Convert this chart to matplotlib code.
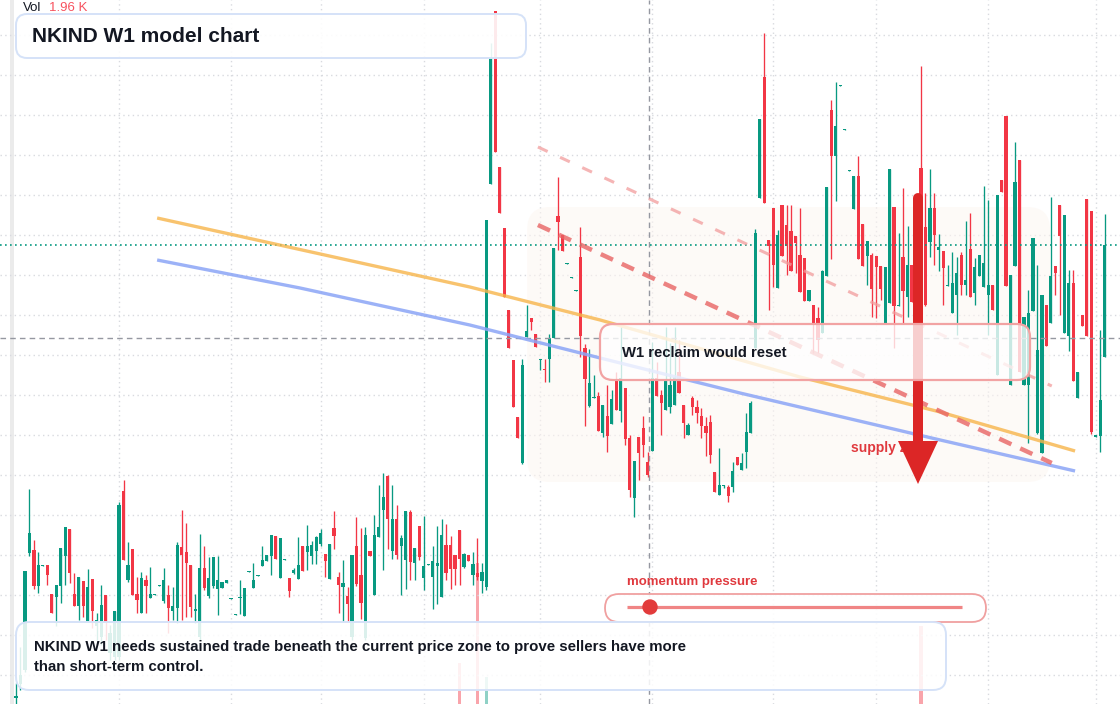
import numpy as np
import matplotlib
matplotlib.use("Agg")
import matplotlib.pyplot as plt
import matplotlib.transforms as mtransforms
from matplotlib.patches import FancyBboxPatch, Polygon, Circle, Rectangle

plt.rcParams['font.family'] = ['Liberation Sans', 'DejaVu Sans']

# ---- weekly candles (price units) ----
opens = [
    1.7, 3.1, 4.5, 16.2, 16.5, 12.9, 14.9, 15.0, 12.1, 11.8,
    12.9, 15.9, 18.6, 12.1, 10.9, 13.4, 9.4, 13.6, 8.9, 7.8,
    12.0, 6.2, 5.8, 5.8, 22.4, 13.5, 16.6, 12.1, 10.2, 13.5,
    11.7, 12.0, 12.9, 11.4, 12.0, 10.4, 10.7, 16.8, 16.3, 15.0,
    10.4, 7.8, 14.7, 11.9, 12.9, 12.6, 12.7, 13.2, 11.6, 10.0,
    11.7, 9.9, 14.3, 12.7, 13.9, 14.9, 15.4, 15.9, 17.9, 13.7,
    15.5, 13.7, 14.2, 13.6, 16.9, 16.3, 15.9, 16.4, 17.1, 16.1,
    13.6, 18.7, 13.8, 12.8, 11.9, 7.8, 16.9, 14.0, 7.7, 16.4,
    12.0, 17.8, 20.5, 23.9, 16.4, 19.6, 16.9, 15.5, 20.3, 15.2,
    18.9, 13.7, 15.0, 13.8, 14.9, 11.8, 17.0, 17.0, 16.0, 18.5,
    14.8, 16.0, 14.0, 14.2, 13.4, 12.8, 53.1, 70.4, 54.8, 48.7,
    40.5, 35.5, 29.8, 25.2, 37.8, 39.7, 38.1, 35.5, 34.6, 35.6,
    37.7, 49.9, 48.0, 45.1, 43.7, 42.4, 45.8, 36.7, 30.9, 31.7,
    31.9, 28.2, 29.9, 29.1, 33.5, 30.4, 32.7, 27.7, 21.7, 27.8,
    28.7, 25.3, 26.4, 33.7, 32.0, 30.5, 30.8, 31.0, 34.3, 31.0,
    28.0, 31.7, 30.8, 29.9, 28.9, 29.3, 24.3, 22.0, 22.9, 22.8,
    22.8, 25.8, 24.5, 26.3, 28.2, 36.7, 51.7, 63.8, 47.5, 50.7,
    42.7, 51.0, 49.0, 48.4, 47.9, 46.0, 45.7, 41.4, 41.0, 39.7,
    38.2, 43.9, 60.5, 55.9, 62.9, 58.5, 54.4, 50.6, 53.9, 49.1,
    45.9, 46.0, 45.9, 44.9, 39.2, 41.2, 50.8, 40.9, 45.8, 41.8,
    45.0, 44.5, 54.7, 48.8, 47.3, 50.7, 46.5, 46.4, 42.9, 40.2,
    42.0, 46.0, 43.0, 46.6, 42.2, 43.9, 42.8, 42.0, 43.0, 34.0,
    53.5, 59.9, 33.0, 44.9, 55.5, 33.0, 33.0, 40.4, 28.2, 26.2,
    41.0, 39.2, 44.9, 51.0, 38.2, 37.9, 43.2, 31.7, 40.0, 51.6,
    50.4, 27.8, 27.9, 35.8,
]
highs = [
    3.2, 6.8, 14.4, 22.6, 17.5, 16.3, 15.0, 15.0, 12.1, 13.0,
    16.7, 18.8, 18.6, 14.2, 13.8, 13.4, 14.6, 13.6, 10.2, 13.0,
    12.0, 9.0, 10.4, 21.3, 23.5, 17.3, 16.6, 13.8, 14.3, 14.0,
    14.8, 12.1, 13.0, 14.7, 13.0, 12.8, 17.3, 20.5, 19.2, 15.0,
    12.1, 18.1, 16.9, 15.8, 15.8, 15.9, 13.3, 13.5, 11.7, 10.1,
    13.5, 12.7, 14.4, 15.2, 14.0, 16.9, 16.0, 18.0, 17.9, 17.7,
    15.6, 13.7, 14.7, 17.8, 16.9, 19.0, 17.4, 17.9, 18.6, 16.1,
    17.1, 20.4, 14.3, 15.5, 12.8, 16.0, 19.8, 18.7, 18.8, 16.4,
    20.0, 23.0, 24.2, 24.0, 23.0, 21.0, 18.0, 20.4, 20.5, 16.7,
    18.9, 19.9, 15.1, 16.9, 18.9, 19.6, 19.1, 17.9, 16.0, 18.5,
    16.2, 16.0, 16.3, 17.7, 15.2, 49.5, 67.2, 70.4, 54.8, 48.7,
    40.5, 35.5, 29.8, 35.6, 41.0, 39.7, 38.1, 35.6, 35.6, 38.1,
    46.7, 53.8, 48.0, 45.2, 43.8, 42.5, 48.8, 37.1, 36.6, 34.0,
    32.3, 31.0, 33.0, 32.5, 34.3, 38.8, 32.7, 28.0, 25.4, 27.8,
    29.9, 26.3, 37.3, 35.3, 32.5, 38.8, 37.2, 38.8, 37.5, 31.0,
    29.2, 31.9, 31.5, 30.7, 29.8, 30.0, 24.3, 26.7, 23.0, 23.0,
    25.3, 25.8, 26.2, 30.2, 31.4, 48.6, 59.6, 68.2, 47.5, 50.7,
    48.5, 51.0, 51.0, 51.0, 47.9, 50.7, 45.7, 42.5, 41.0, 40.8,
    44.5, 52.8, 61.5, 63.3, 63.0, 58.6, 54.5, 53.9, 55.9, 49.1,
    47.4, 46.2, 45.9, 44.9, 44.8, 54.6, 50.8, 48.2, 52.7, 48.9,
    45.0, 45.3, 64.9, 52.2, 54.6, 52.2, 48.1, 46.4, 45.0, 46.3,
    45.8, 46.3, 49.4, 50.2, 45.7, 46.0, 52.9, 51.5, 43.0, 52.0,
    53.5, 59.9, 44.0, 57.3, 55.5, 39.8, 42.5, 47.7, 45.0, 42.0,
    41.0, 51.8, 44.9, 51.0, 50.0, 44.5, 44.5, 34.3, 40.0, 51.6,
    50.4, 28.0, 38.5, 50.1,
]
lows = [
    1.1, 2.5, 4.3, 15.9, 12.6, 12.2, 14.9, 13.0, 10.2, 8.9,
    11.2, 13.0, 13.2, 10.9, 9.5, 9.8, 9.4, 8.7, 7.5, 7.0,
    7.5, 5.5, 5.5, 5.5, 15.5, 13.3, 12.0, 10.2, 10.2, 10.2,
    11.7, 12.0, 12.9, 11.2, 8.2, 9.5, 9.2, 9.5, 9.8, 9.8,
    9.2, 7.5, 12.5, 11.7, 12.7, 10.0, 12.7, 13.2, 11.6, 10.0,
    10.1, 9.9, 14.3, 12.7, 13.9, 14.9, 15.4, 14.0, 15.6, 13.7,
    15.5, 11.8, 14.1, 13.6, 14.4, 14.5, 15.1, 15.1, 16.9, 13.8,
    13.6, 16.6, 10.2, 9.3, 9.3, 7.5, 12.9, 9.6, 7.5, 15.9,
    12.0, 17.8, 14.5, 16.6, 15.6, 15.6, 12.0, 12.6, 13.5, 13.5,
    15.5, 12.5, 15.0, 10.6, 11.1, 11.8, 13.5, 12.6, 13.0, 13.0,
    14.7, 15.4, 13.0, 13.5, 12.2, 12.5, 53.1, 56.3, 50.2, 41.8,
    36.7, 30.8, 27.7, 25.1, 37.8, 38.5, 36.8, 34.5, 33.3, 33.3,
    37.7, 46.5, 46.4, 45.1, 43.7, 42.4, 35.8, 28.9, 30.8, 31.7,
    28.4, 27.8, 26.3, 29.1, 30.5, 29.3, 27.0, 21.8, 19.8, 23.5,
    25.8, 23.8, 26.4, 31.9, 28.0, 30.5, 30.2, 31.0, 32.2, 27.7,
    28.0, 30.0, 29.2, 27.7, 25.9, 25.2, 22.3, 22.0, 22.7, 21.3,
    22.3, 25.0, 24.5, 24.7, 28.2, 36.7, 51.7, 51.2, 40.5, 42.8,
    42.7, 45.9, 44.0, 44.4, 44.2, 42.3, 41.4, 41.4, 36.2, 36.2,
    38.2, 43.9, 45.6, 51.4, 62.9, 58.5, 54.4, 50.6, 45.6, 44.9,
    43.0, 39.8, 39.7, 41.5, 39.2, 41.2, 36.7, 40.9, 39.2, 39.8,
    41.3, 40.5, 41.0, 40.9, 45.8, 45.0, 44.4, 41.0, 42.9, 40.2,
    38.0, 42.0, 42.0, 41.8, 41.0, 43.9, 42.8, 38.0, 40.5, 34.0,
    52.3, 42.9, 33.0, 44.9, 34.3, 33.0, 27.2, 40.4, 28.1, 26.2,
    36.9, 39.2, 42.0, 40.0, 38.2, 36.4, 33.4, 31.7, 38.9, 37.9,
    28.1, 27.8, 26.3, 35.8,
]
closes = [
    1.9, 4.0, 14.4, 18.2, 12.9, 15.0, 15.0, 14.0, 10.2, 13.0,
    16.7, 18.8, 14.2, 10.9, 13.8, 10.9, 12.8, 10.4, 9.5, 11.0,
    9.2, 8.2, 10.4, 21.0, 15.5, 15.0, 12.0, 11.5, 13.7, 12.9,
    12.1, 12.1, 13.0, 13.5, 10.7, 10.9, 17.0, 16.0, 15.2, 10.8,
    10.6, 14.7, 12.7, 13.7, 15.8, 13.5, 13.3, 13.5, 11.7, 10.1,
    11.8, 12.7, 14.4, 13.5, 14.0, 15.5, 16.0, 18.0, 15.6, 17.7,
    15.6, 12.4, 14.5, 15.0, 14.4, 16.9, 17.0, 17.8, 18.2, 15.4,
    17.1, 17.9, 13.0, 13.2, 11.1, 16.0, 13.1, 11.2, 18.0, 15.9,
    18.0, 18.8, 21.8, 19.6, 19.6, 16.0, 17.7, 20.4, 15.3, 16.7,
    15.8, 14.9, 15.1, 15.4, 15.2, 18.0, 14.2, 14.6, 14.6, 15.6,
    16.1, 15.4, 15.1, 13.8, 14.3, 49.5, 65.7, 56.3, 50.2, 41.8,
    36.7, 30.8, 27.7, 35.0, 38.4, 39.3, 36.8, 35.6, 34.5, 37.7,
    46.7, 49.3, 46.4, 45.2, 43.8, 42.5, 37.9, 33.6, 33.2, 31.8,
    28.4, 31.0, 27.9, 31.6, 30.5, 33.7, 27.6, 22.5, 25.4, 26.2,
    27.0, 24.0, 33.7, 31.9, 31.2, 33.5, 33.0, 33.8, 32.2, 29.2,
    29.0, 30.8, 30.2, 28.9, 28.2, 26.0, 22.3, 23.0, 23.0, 21.9,
    24.4, 25.0, 25.2, 28.3, 31.2, 48.2, 59.6, 51.2, 46.9, 45.0,
    48.0, 45.9, 46.9, 44.4, 47.2, 42.3, 41.4, 42.5, 39.2, 37.5,
    44.4, 52.8, 55.9, 58.9, 63.0, 58.6, 54.5, 53.9, 45.6, 44.9,
    47.4, 42.6, 44.8, 42.6, 44.8, 54.6, 40.9, 41.0, 42.4, 45.0,
    41.3, 41.5, 41.0, 41.0, 50.7, 48.0, 46.8, 44.7, 43.0, 43.2,
    44.2, 43.0, 43.5, 41.8, 44.8, 46.0, 45.2, 43.0, 40.5, 52.0,
    52.3, 42.9, 44.0, 53.3, 34.3, 39.8, 40.2, 47.7, 36.5, 42.0,
    36.9, 43.9, 44.2, 47.9, 50.0, 43.2, 33.4, 34.3, 38.9, 37.9,
    28.3, 28.0, 31.5, 47.0,
]

# volume spikes (thousands), all other weeks negligible
vol_idx = [99, 103, 105, 202]
vol_k = [0.85, 2.9, 0.55, 1.6]

# time / price grid and cursor
grid_idx = [23, 48, 68, 91, 117, 142, 169, 192, 217, 241]
price_grid = list(range(4, 69, 4))
cursor_idx, cursor_price = 141.3, 37.7

# model overlays
orange_x = [31.5, 101.3, 130.4, 175.0, 206.3, 236.4]
orange_y = [49.7, 42.8, 39.5, 33.8, 30.3, 26.4]
blue_x = [31.5, 63.4, 101.3, 130.4, 161.6, 206.3, 236.4]
blue_y = [45.5, 42.7, 39.0, 35.7, 32.2, 27.5, 24.4]
upper_dash_x, upper_dash_y = [116.5, 231.2], [56.8, 32.9]
lower_dash_x, lower_dash_y = [116.5, 231.2], [49.0, 25.2]
zone_x, zone_y = [114.1, 230.8], [23.3, 50.8]

GREEN = '#089981'
RED = '#f23645'

opens = np.array(opens); highs = np.array(highs)
lows = np.array(lows); closes = np.array(closes)
n = len(opens)
x = np.arange(n)
up = closes >= opens
cols = np.where(up, GREEN, RED)

fig = plt.figure(figsize=(11.2, 7.04), dpi=100, facecolor='white')
xlim = (-16 / 4.48, 1104 / 4.48)

# volume pane underneath
axv = fig.add_axes([0, 0, 1, 1])
axv.set_xlim(*xlim)
axv.set_ylim(0, 14.5)
axv.axis('off')
vcols = [cols[i] for i in vol_idx]
axv.bar(vol_idx, vol_k, width=0.7, color=vcols, alpha=0.45, lw=0)

ax = fig.add_axes([0, 0, 1, 1])
ax.patch.set_alpha(0)
ax.set_xlim(*xlim)
ax.set_ylim(1.1, 71.5)
for s in ax.spines.values():
    s.set_visible(False)
ax.set_xticks(grid_idx)
ax.set_yticks(price_grid)
ax.tick_params(length=0, labelleft=False, labelbottom=False)
ax.set_axisbelow(True)
ax.grid(True, color='#d8dadf', lw=1.0, linestyle=(0, (1, 2.4)))

# pixel transform for annotations (origin top-left)
pix = mtransforms.Affine2D().scale(1 / 1120, -1 / 704).translate(0, 1) + fig.transFigure

ax.add_patch(Rectangle((10, 0), 4, 704, transform=pix, color='#ebebeb', lw=0, zorder=0.3))

# supply zone shading
ax.add_patch(FancyBboxPatch((zone_x[0], zone_y[0]), zone_x[1] - zone_x[0], zone_y[1] - zone_y[0],
                            boxstyle='round,pad=0,rounding_size=5', mutation_aspect=0.448,
                            fc='#fdf6f1', ec='none', alpha=0.55, zorder=1))

# candles
ax.vlines(x, lows, highs, colors=cols, lw=0.95, zorder=3)
body_lo = np.minimum(opens, closes)
body_h = np.maximum(np.abs(closes - opens), 0.12)
ax.bar(x, body_h, bottom=body_lo, width=0.72, color=cols, lw=0, zorder=3)

# cursor and last price
ax.axvline(cursor_idx, color='#9598a1', lw=1.0, dashes=(4, 3), zorder=4)
ax.axhline(cursor_price, color='#9598a1', lw=1.0, dashes=(4, 3), zorder=4)
ax.axhline(closes[-1], color=GREEN, lw=1.2, linestyle=(0, (1, 2)), zorder=4)

# model lines
ax.plot(orange_x, orange_y, color='#f7b54a', lw=2.4, alpha=0.8, zorder=5, solid_capstyle='butt')
ax.plot(blue_x, blue_y, color='#8ba5f6', lw=2.4, alpha=0.85, zorder=5, solid_capstyle='butt')
ax.plot(upper_dash_x, upper_dash_y, color='#f29c9c', lw=2.2, alpha=0.75,
        dashes=(3.5, 4.5), zorder=5)
ax.plot(lower_dash_x, lower_dash_y, color='#e86464', lw=3.2, alpha=0.8,
        dashes=(3, 2.2), zorder=5)

# supply label and arrow
ax.text(851, 448, 'supply zone', transform=pix, ha='left', va='center',
        fontsize=10, fontweight='bold', color='#e0393e', zorder=6)
ax.plot([918, 918], [198, 446], transform=pix, color='#dc2626', lw=7.2,
        solid_capstyle='round', zorder=7)
ax.add_patch(Polygon([[898, 441], [938, 441], [918, 484]], closed=True,
                     transform=pix, color='#dc2626', lw=0, zorder=7))


def card(x0, y0, x1, y1, r, ec, fc, lw=1.4, z=8):
    ax.add_patch(FancyBboxPatch((x0, y0), x1 - x0, y1 - y0, transform=pix,
                                boxstyle=f'round,pad=0,rounding_size={r}',
                                fc=fc, ec=ec, lw=lw, zorder=z))


# title card
card(16, 14, 526, 58, 11, '#d5e2f8', (1, 1, 1, 0.9))
ax.text(32, 36, 'NKIND W1 model chart', transform=pix, ha='left', va='center',
        fontsize=15, fontweight='bold', color='#131722', zorder=9)
ax.text(23, 8, 'Vol', transform=pix, ha='left', va='center', fontsize=9.5,
        color='#131722', zorder=9)
ax.text(49, 8, '1.96 K', transform=pix, ha='left', va='center', fontsize=9.5,
        color='#f7525f', zorder=9)

# reclaim card
card(600, 324, 1030, 380, 13, '#f2a3a3', (1, 1, 1, 0.78), lw=1.6)
ax.text(622, 353, 'W1 reclaim would reset', transform=pix, ha='left', va='center',
        fontsize=10.75, fontweight='bold', color='#131722', zorder=9)

# momentum slider
ax.text(627, 582, 'momentum pressure', transform=pix, ha='left', va='center',
        fontsize=9.5, fontweight='bold', color='#e0393e', zorder=9)
card(605, 594, 986, 622, 14, '#f0a0a0', (1, 1, 1, 0.9), lw=1.3)
ax.plot([627, 962], [607, 607], transform=pix, color='#f08585', lw=2.3, zorder=9,
        solid_capstyle='butt')
ax.add_patch(Circle((650, 607), 7, transform=pix, color='#e23b3b', zorder=10))

# bottom note card
card(16, 622, 946, 690, 13, '#d5e2f8', (1, 1, 1, 0.86))
ax.text(34, 647, 'NKIND W1 needs sustained trade beneath the current price zone to prove sellers have more',
        transform=pix, ha='left', va='center', fontsize=10.8, fontweight='bold',
        color='#131722', zorder=9)
ax.text(34, 667, 'than short-term control.', transform=pix, ha='left', va='center',
        fontsize=10.8, fontweight='bold', color='#131722', zorder=9)

fig.savefig('out.png', dpi=100, facecolor='white')
